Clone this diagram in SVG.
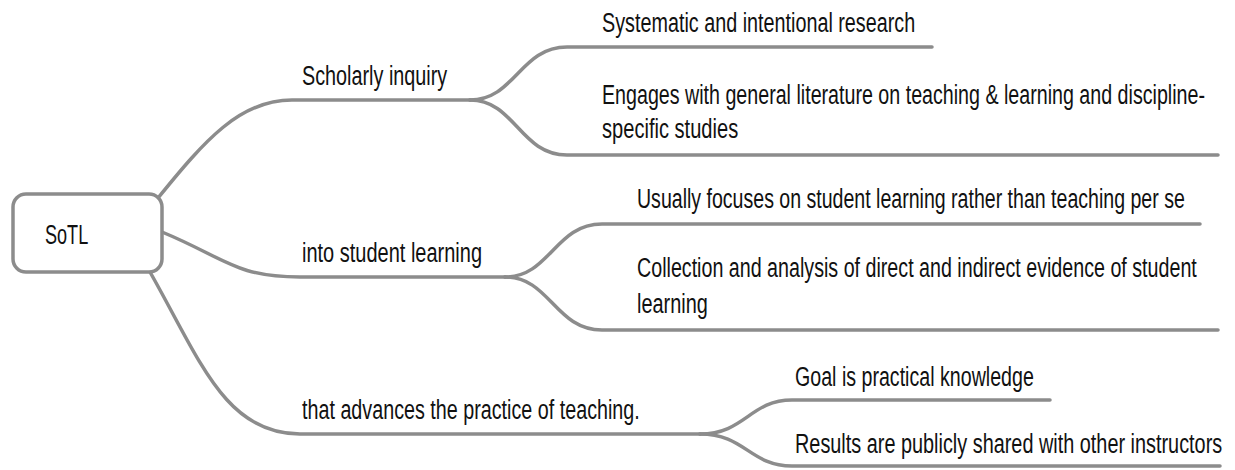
<svg xmlns="http://www.w3.org/2000/svg" width="1235" height="470" viewBox="0 0 1235 470">
  <style>
    .link { fill: none; stroke: #8c8c8c; stroke-width: 3.5; stroke-linecap: round; }
    .box { fill: #ffffff; stroke: #8c8c8c; stroke-width: 3.5; }
    .lbl { font-family: "Liberation Sans", Arial, sans-serif; font-size: 28px; fill: #111111; }
  </style>
  <rect width="1235" height="470" fill="#ffffff"/>

  <g id="connectors">
    <!-- root to first-level branches -->
    <path class="link" d="M158,198 C205,140 240,100 292,100 H470"/>
    <path class="link" d="M162,232 C225,258 235,277 300,277 H505"/>
    <path class="link" d="M150,272 C200,360 225,434 300,434 H700"/>
    <!-- Scholarly inquiry leaves -->
    <path class="link" d="M470,100 C515,100 520,47 567,47 H932"/>
    <path class="link" d="M470,100 C515,100 520,155 567,155 H1218"/>
    <!-- into student learning leaves -->
    <path class="link" d="M505,277 C550,277 555,224 602,224 H1200"/>
    <path class="link" d="M505,277 C550,277 555,330 602,330 H1218"/>
    <!-- practice of teaching leaves -->
    <path class="link" d="M700,434 C745,434 750,400 792,400 H1050"/>
    <path class="link" d="M700,434 C745,434 750,466 792,466 H1220"/>
  </g>

  <!-- labels use a condensed look: horizontal scale 0.6, lengths given in unscaled units -->
  <g id="root">
    <rect class="box" x="13" y="194" width="149" height="78" rx="13"/>
    <text class="lbl" transform="translate(45,244) scale(0.6,1)" textLength="72" lengthAdjust="spacingAndGlyphs">SoTL</text>
  </g>

  <g id="scholarly-inquiry">
    <text class="lbl" transform="translate(302,85) scale(0.6,1)" textLength="242" lengthAdjust="spacingAndGlyphs">Scholarly inquiry</text>
  </g>
  <g id="systematic-research">
    <text class="lbl" transform="translate(602,32) scale(0.6,1)" textLength="522" lengthAdjust="spacingAndGlyphs">Systematic and intentional research</text>
  </g>
  <g id="engages-literature">
    <text class="lbl" transform="translate(602,104) scale(0.6,1)" textLength="1005" lengthAdjust="spacingAndGlyphs">Engages with general literature on teaching &amp; learning and discipline-</text>
    <text class="lbl" transform="translate(602,138) scale(0.6,1)" textLength="227" lengthAdjust="spacingAndGlyphs">specific studies</text>
  </g>

  <g id="student-learning">
    <text class="lbl" transform="translate(302,262) scale(0.6,1)" textLength="300" lengthAdjust="spacingAndGlyphs">into student learning</text>
  </g>
  <g id="focuses-learning">
    <text class="lbl" transform="translate(637,208) scale(0.6,1)" textLength="913" lengthAdjust="spacingAndGlyphs">Usually focuses on student learning rather than teaching per se</text>
  </g>
  <g id="collection-evidence">
    <text class="lbl" transform="translate(637,277) scale(0.6,1)" textLength="933" lengthAdjust="spacingAndGlyphs">Collection and analysis of direct and indirect evidence of student</text>
    <text class="lbl" transform="translate(637,313) scale(0.6,1)" textLength="118" lengthAdjust="spacingAndGlyphs">learning</text>
  </g>

  <g id="advances-practice">
    <text class="lbl" transform="translate(302,419) scale(0.6,1)" textLength="563" lengthAdjust="spacingAndGlyphs">that advances the practice of teaching.</text>
  </g>
  <g id="practical-knowledge">
    <text class="lbl" transform="translate(795,386) scale(0.6,1)" textLength="398" lengthAdjust="spacingAndGlyphs">Goal is practical knowledge</text>
  </g>
  <g id="publicly-shared">
    <text class="lbl" transform="translate(795,453) scale(0.6,1)" textLength="712" lengthAdjust="spacingAndGlyphs">Results are publicly shared with other instructors</text>
  </g>
</svg>
